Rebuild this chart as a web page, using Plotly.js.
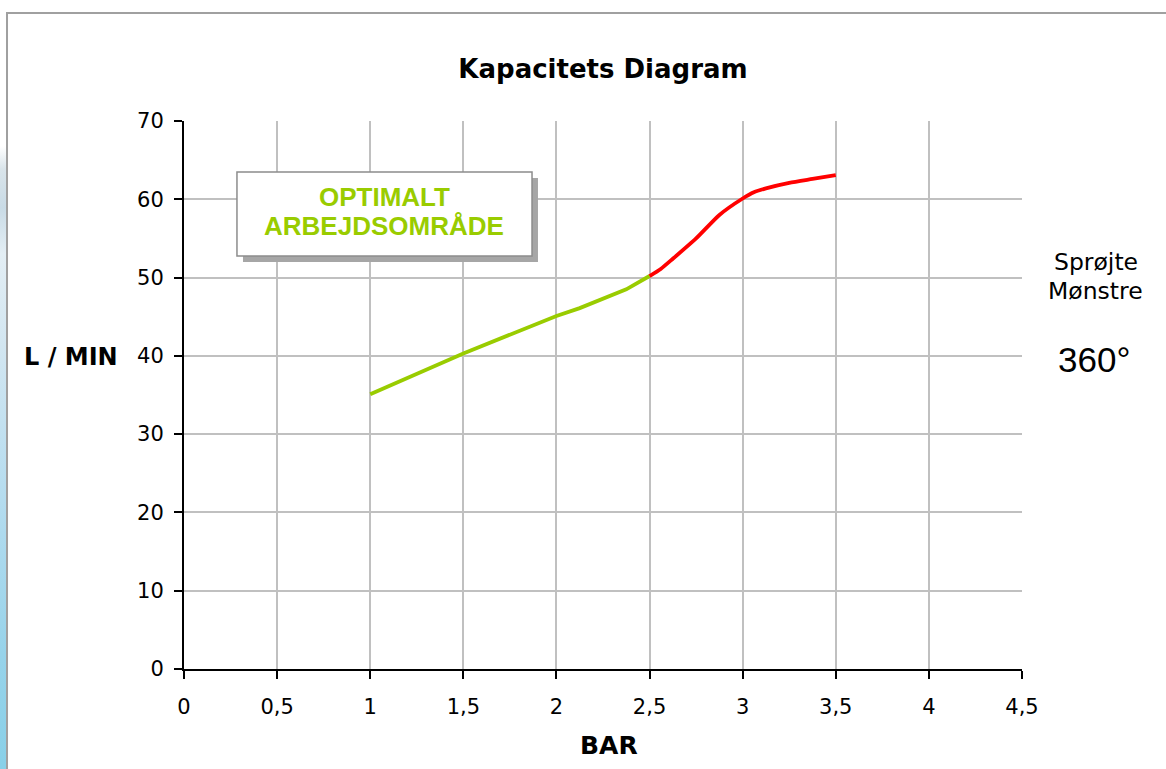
<!DOCTYPE html>
<html>
<head>
<meta charset="utf-8">
<script src="https://cdn.plot.ly/plotly-3.0.1.min.js"></script>
<style>
  html, body { margin: 0; padding: 0; background: #ffffff; }
  #chart { width: 1166px; height: 769px; position: relative; }
  #edge { position: absolute; left: 0; top: 0; width: 6px; height: 769px; z-index: 5; pointer-events: none;
    background: linear-gradient(to bottom, #ffffff 0%, #ffffff 19%, #d9e4ea 22%, #c9dbe6 27%, #e3eef4 33%, #d2e6f1 45%, #b4dcef 65%, #97d3ea 85%, #88d0e8 100%); }
</style>
</head>
<body>
<div id="edge"></div>
<div id="chart"></div>
<script>
// Data
const optimalBar = [1, 1.5, 2, 2.125, 2.375, 2.5];
const optimalFlow = [35.1, 40.3, 45.1, 46.1, 48.5, 50.2];
const highBar = [2.5, 2.56, 2.625, 2.75, 2.875, 3, 3.06, 3.125, 3.25, 3.375, 3.5];
const highFlow = [50.2, 51.1, 52.4, 55.0, 58.0, 60.1, 60.9, 61.4, 62.1, 62.6, 63.1];
const xTicks = [0, 0.5, 1, 1.5, 2, 2.5, 3, 3.5, 4, 4.5];
const yTicks = [0, 10, 20, 30, 40, 50, 60, 70];

const FONT = 'DejaVu Sans, Liberation Sans, Arial, sans-serif';
const ARIAL = 'Liberation Sans, Arial, sans-serif';

const traces = [
  { x: optimalBar, y: optimalFlow, type: 'scatter', mode: 'lines',
    line: { color: '#99cc00', width: 3.8 }, hoverinfo: 'x+y', showlegend: false },
  { x: highBar, y: highFlow, type: 'scatter', mode: 'lines',
    line: { color: '#ff0000', width: 3.8, shape: 'spline', smoothing: 0.6 }, hoverinfo: 'x+y', showlegend: false }
];

const layout = {
  width: 1166, height: 769,
  margin: { l: 184, r: 144, t: 121, b: 100, pad: 0 },
  paper_bgcolor: '#ffffff', plot_bgcolor: '#ffffff',
  separators: ',.',
  showlegend: false,
  title: { text: 'Kapacitets Diagram', x: 0.5, xref: 'paper', xanchor: 'center',
           y: 1 - 69 / 769, yref: 'container', yanchor: 'middle',
           font: { family: FONT, size: 26, color: '#000000', weight: 'bold' } },
  xaxis: {
    range: [0, 4.5], tickvals: xTicks, ticktext: xTicks.map(v => String(v).replace('.', ',')),
    showgrid: true, gridcolor: '#c0c0c0', gridwidth: 2, zeroline: false,
    showline: true, linecolor: '#000000', linewidth: 2,
    ticks: 'outside', ticklen: 8, tickwidth: 2, tickcolor: '#000000',
    ticklabelstandoff: 10,
    tickfont: { family: FONT, size: 21, color: '#000000' }, fixedrange: true
  },
  yaxis: {
    range: [0, 70], tickvals: yTicks,
    showgrid: true, gridcolor: '#c0c0c0', gridwidth: 2, zeroline: false,
    showline: true, linecolor: '#000000', linewidth: 2,
    ticks: 'outside', ticklen: 8, tickwidth: 2, tickcolor: '#000000',
    ticklabelstandoff: 6,
    tickfont: { family: FONT, size: 21, color: '#000000' }, fixedrange: true
  },
  shapes: [
    // outer frame
    { type: 'rect', xref: 'paper', yref: 'paper', x0: -0.2112, x1: 1.25, y0: -0.25, y1: 1.197,
      line: { color: '#a0a0a0', width: 2 }, fillcolor: 'rgba(0,0,0,0)', layer: 'below' },
    // text box shadow
    { type: 'rect', xref: 'paper', yref: 'paper', x0: 0.0704, x1: 0.4224, y0: 0.7427, y1: 0.896,
      line: { width: 0 }, fillcolor: '#a6a6a6', layer: 'above' },
    // text box
    { type: 'rect', xref: 'paper', yref: 'paper', x0: 0.0632, x1: 0.4153, y0: 0.7536, y1: 0.9069,
      line: { color: '#8c8c8c', width: 1.5 }, fillcolor: '#ffffff', layer: 'above' }
  ],
  annotations: [
    { text: 'L / MIN', xref: 'paper', yref: 'paper', x: -0.1343, y: (669 - 357) / 548,
      xanchor: 'center', yanchor: 'middle', showarrow: false,
      font: { family: FONT, size: 24, color: '#000000', weight: 'bold' } },
    { text: 'BAR', xref: 'paper', yref: 'paper', x: 0.507, y: -0.1405,
      xanchor: 'center', yanchor: 'middle', showarrow: false,
      font: { family: FONT, size: 25, color: '#000000', weight: 'bold' } },
    { text: 'Sprøjte', xref: 'paper', yref: 'paper', x: 1.0883, y: 0.7427,
      xanchor: 'center', yanchor: 'middle', showarrow: false,
      font: { family: FONT, size: 23.5, color: '#000000' } },
    { text: 'Mønstre', xref: 'paper', yref: 'paper', x: 1.0883, y: 0.6898,
      xanchor: 'center', yanchor: 'middle', showarrow: false,
      font: { family: FONT, size: 23.5, color: '#000000' } },
    { text: '360°', xref: 'paper', yref: 'paper', x: 1.0859, y: 0.5639,
      xanchor: 'center', yanchor: 'middle', showarrow: false,
      font: { family: ARIAL, size: 35, color: '#000000' } },
    { text: 'OPTIMALT', xref: 'paper', yref: 'paper', x: 0.2387, y: 0.8613,
      xanchor: 'center', yanchor: 'middle', showarrow: false,
      font: { family: ARIAL, size: 26, color: '#99cc00', weight: 'bold' } },
    { text: 'ARBEJDSOMRÅDE', xref: 'paper', yref: 'paper', x: 0.2387, y: 0.8084,
      xanchor: 'center', yanchor: 'middle', showarrow: false,
      font: { family: ARIAL, size: 26, color: '#99cc00', weight: 'bold' } }
  ]
};

Plotly.newPlot('chart', traces, layout, { staticPlot: true, displayModeBar: false });
</script>
</body>
</html>
